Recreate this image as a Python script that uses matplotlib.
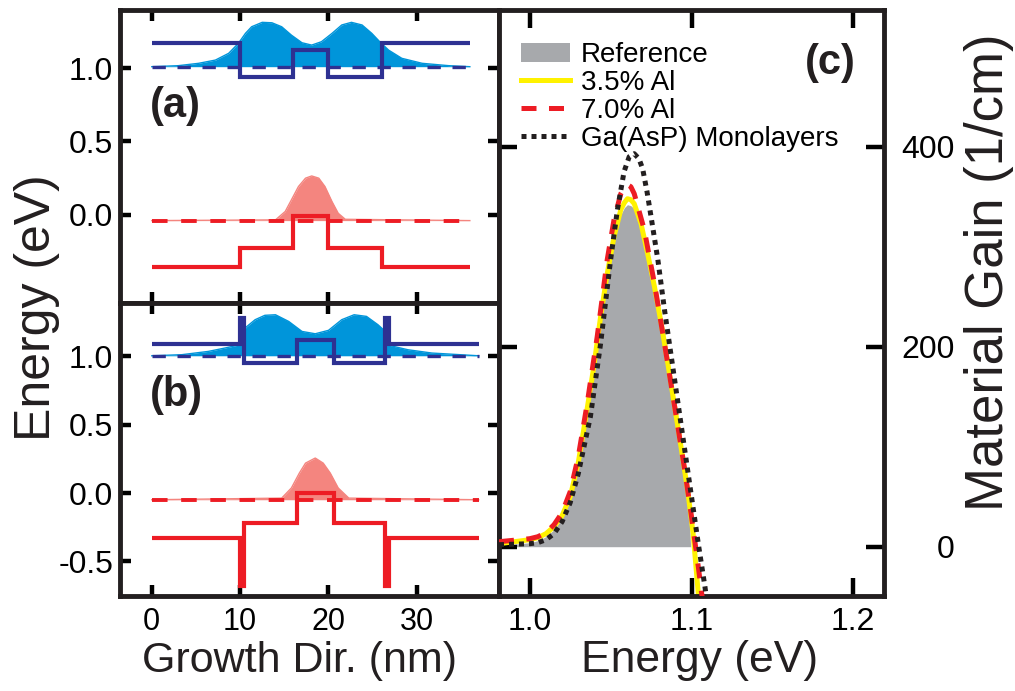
import matplotlib
matplotlib.use('Agg')
import matplotlib.pyplot as plt
from matplotlib import font_manager
from matplotlib.patches import Patch
from matplotlib.lines import Line2D

names = {f.name for f in font_manager.fontManager.ttflist}
narrow = 'Liberation Sans Narrow' if 'Liberation Sans Narrow' in names else 'Liberation Sans'
plt.rcParams['font.family'] = ['Liberation Sans', 'DejaVu Sans']
plt.rcParams['axes.unicode_minus'] = False

# ---- panel (a): band edges along growth direction ----
edges_a = [0, 10, 16, 20, 26, 36]
cb_a = [1.168, 0.941, 1.122, 0.941, 1.168]
vb_a = [-0.358, -0.227, -0.005, -0.227, -0.358]
level_cb_a = 1.009
level_vb_a = -0.039
psi_e_x_a = [0, 3.0, 5.3, 7.2, 8.7, 9.8, 10.6, 11.3, 12.5, 13.6, 14.7, 15.8, 17.0, 18.1,
             19.2, 20.4, 21.5, 22.6, 23.8, 24.9, 25.8, 26.8, 28.3, 30.6, 33.6, 36.0]
psi_e_a = [1.009, 1.016, 1.032, 1.054, 1.100, 1.168, 1.236, 1.281, 1.311, 1.308, 1.281, 1.224,
           1.172, 1.156, 1.179, 1.236, 1.293, 1.311, 1.293, 1.236, 1.179, 1.122, 1.066, 1.032,
           1.016, 1.009]
psi_h_x_a = [0, 14.0, 15.1, 15.8, 16.6, 17.4, 18.1, 18.9, 19.6, 20.4, 21.1, 21.9, 36.0]
psi_h_a = [-0.039, -0.034, 0.023, 0.102, 0.193, 0.250, 0.265, 0.250, 0.193, 0.090, 0.011,
           -0.030, -0.039]

# ---- panel (b): with thin AlAs layers ----
edges_b = [0, 10.0, 10.45, 16.4, 20.6, 26.35, 26.8, 37.0]
cb_b = [1.088, 1.278, 0.949, 1.119, 0.949, 1.278, 1.088]
vb_b = [-0.329, -0.683, -0.219, 0.0, -0.219, -0.683, -0.329]
level_cb_b = 1.004
level_vb_b = -0.049
psi_e_x_b = [0, 3.4, 6.4, 8.3, 10.0, 10.3, 10.7, 11.7, 12.8, 14.0, 15.5, 17.0, 18.5, 20.0,
             21.5, 22.9, 24.3, 25.6, 26.3, 26.6, 27.2, 29.0, 31.7, 37.0]
psi_e_b = [1.004, 1.012, 1.036, 1.061, 1.085, 1.182, 1.215, 1.268, 1.300, 1.304, 1.255, 1.182,
           1.165, 1.190, 1.268, 1.304, 1.292, 1.231, 1.190, 1.085, 1.075, 1.048, 1.024, 1.004]
psi_h_x_b = [0, 14.7, 15.8, 16.7, 17.4, 18.5, 19.4, 20.2, 21.1, 22.3, 37.0]
psi_h_b = [-0.049, -0.037, 0.037, 0.146, 0.219, 0.256, 0.219, 0.146, 0.037, -0.037, -0.049]

# ---- panel (c): material gain ----
ref_e = [0.981, 1.0, 1.005, 1.010, 1.015, 1.020, 1.025, 1.030, 1.0354, 1.0396, 1.0438, 1.0479,
         1.0521, 1.0563, 1.0585, 1.0604, 1.0625, 1.0646, 1.0688, 1.0729, 1.0771, 1.0813,
         1.0854, 1.0896, 1.0938, 1.0979, 1.0995]
ref_g = [1, 4, 6, 10, 17, 28, 47, 81, 134, 177, 227, 270, 306, 332, 339, 342, 341, 338, 319,
         289, 256, 219, 179, 136, 93, 45, 0]
al35_e = [0.981, 1.0, 1.005, 1.010, 1.015, 1.020, 1.025, 1.030, 1.0354, 1.0396, 1.0438, 1.0479,
          1.0521, 1.0563, 1.0585, 1.0604, 1.0625, 1.0646, 1.0688, 1.0729, 1.0771, 1.0813,
          1.0854, 1.0896, 1.0938, 1.0979, 1.1010, 1.1042, 1.1060]
al35_g = [3, 7, 9, 13, 20, 31, 50, 84, 137, 180, 230, 273, 310, 337, 344, 348, 347, 343, 323,
          293, 260, 223, 183, 140, 97, 53, 13, -47, -70]
al70_e = [0.981, 1.0, 1.005, 1.010, 1.015, 1.020, 1.025, 1.030, 1.0354, 1.0417, 1.0479, 1.0521,
          1.0563, 1.0585, 1.0604, 1.0625, 1.0646, 1.0708, 1.0771, 1.0833, 1.0896, 1.0958,
          1.1000, 1.1042, 1.1063, 1.1080]
al70_g = [5, 8, 10, 14, 22, 34, 55, 90, 142, 210, 287, 327, 353, 359, 362, 360, 353, 317, 263,
          203, 140, 77, 30, -20, -47, -65]
ml_e = [0.981, 1.0, 1.005, 1.010, 1.015, 1.020, 1.025, 1.030, 1.0375, 1.0438, 1.05, 1.0542,
        1.0583, 1.0615, 1.0646, 1.0675, 1.0698, 1.0725, 1.075, 1.0792, 1.0833, 1.0875, 1.0917,
        1.0958, 1.1, 1.1042, 1.1083, 1.1100]
ml_g = [2, 3, 4, 7, 13, 25, 44, 73, 130, 203, 287, 337, 375, 390, 393, 388, 378, 355, 330,
        287, 237, 190, 143, 97, 50, 3, -40, -60]
legend_labels = ['Reference', '3.5% Al', '7.0% Al', 'Ga(AsP) Monolayers']

nm_ticks = [0, 10, 20, 30]
gain_ticks = [0, 200, 400]
gain_labels = ['0', '200', '400']
e_ticks = [1.0, 1.1, 1.2]
e_labels = ['1.0', '1.1', '1.2']

navy = '#2E3192'
cyan = '#0095DA'
red = '#ED1C24'
salmon = '#F4857F'
yellow = '#FFF200'
gray = '#A7A9AC'
black = '#231F20'

W, H = 1015, 691
fig = plt.figure(figsize=(W / 100, H / 100), dpi=100)


def fx(px):
    return px / W


def fy(py):
    return 1 - py / H


ax_a = fig.add_axes([fx(120), fy(303), fx(499) - fx(120), fy(10) - fy(303)])
ax_b = fig.add_axes([fx(120), fy(596), fx(499) - fx(120), fy(303) - fy(596)])
ax_c = fig.add_axes([fx(499), fy(596), fx(884) - fx(499), fy(10) - fy(596)])


def band_panel(ax, edges, cb, vb, lcb, lvb, xe, ye, xh, yh):
    ax.fill_between(xe, lcb, ye, color=cyan, lw=0, zorder=1)
    ax.plot(xe, ye, color=cyan, lw=1, zorder=1)
    ax.fill_between(xh, lvb, yh, color=salmon, lw=0, zorder=1)
    ax.plot(xh, yh, color=salmon, lw=1, zorder=1)
    ax.plot([edges[0], edges[-1]], [lcb, lcb], color=navy, lw=2.4, dashes=(4, 3.5), zorder=2)
    ax.plot([edges[0], edges[-1]], [lvb, lvb], color=red, lw=2.8, dashes=(4, 3.5), zorder=2)
    ax.stairs(cb, edges, baseline=None, color=navy, lw=3.0, zorder=3, joinstyle='miter')
    ax.stairs(vb, edges, baseline=None, color=red, lw=3.0, zorder=3, joinstyle='miter')
    ax.set_xlim(-3.6, 39.3)
    ax.set_xticks(nm_ticks)
    ax.tick_params(direction='in', length=8, width=3.2, top=True, right=True,
                   labelsize=23, pad=5)
    for s in ax.spines.values():
        s.set_linewidth(3.5)
        s.set_color(black)


band_panel(ax_a, edges_a, cb_a, vb_a, level_cb_a, level_vb_a,
           psi_e_x_a, psi_e_a, psi_h_x_a, psi_h_a)
band_panel(ax_b, edges_b, cb_b, vb_b, level_cb_b, level_vb_b,
           psi_e_x_b, psi_e_b, psi_h_x_b, psi_h_b)

ax_a.set_ylim(-0.6, 1.395)
ax_a.set_yticks([0, 0.5, 1.0])
ax_a.set_yticklabels(['0.0', '0.5', '1.0'])
ax_a.tick_params(labelbottom=False)

ax_b.set_ylim(-0.753, 1.39)
ax_b.set_yticks([-0.5, 0, 0.5, 1.0])
ax_b.set_yticklabels(['-0.5', '0.0', '0.5', '1.0'])
ax_b.set_xticklabels([str(t) for t in nm_ticks], fontfamily=narrow, fontsize=22)
ax_b.tick_params(axis='x', pad=8)

# panel (c)
ax_c.fill_between(ref_e, 0, ref_g, color=gray, lw=0, zorder=1)
ax_c.plot(al35_e, al35_g, color=yellow, lw=3.6, zorder=2)
ax_c.plot(al70_e, al70_g, color=red, lw=3.6, dashes=(3, 2.5), zorder=3)
ax_c.plot(ml_e, ml_g, color=black, lw=3.6, dashes=(1, 1), zorder=4)
ax_c.set_xlim(0.981, 1.219)
ax_c.set_ylim(-49.3, 536.7)
ax_c.set_xticks(e_ticks)
ax_c.set_xticklabels(e_labels, fontfamily=narrow, fontsize=22)
ax_c.set_yticks(gain_ticks)
ax_c.set_yticklabels(gain_labels)
ax_c.tick_params(direction='in', length=13, width=3.2, top=True, right=True,
                 labelleft=False, labelright=True, labelsize=23)
ax_c.tick_params(axis='x', pad=8)
ax_c.tick_params(axis='y', pad=51)
for t in ax_c.yaxis.get_major_ticks():
    t.label2.set_horizontalalignment('right')
for s in ax_c.spines.values():
    s.set_linewidth(3.5)
    s.set_color(black)

handles = [Patch(facecolor=gray, edgecolor='none'),
           Line2D([], [], color=yellow, lw=3.6),
           Line2D([], [], color=red, lw=3.6, dashes=(3, 2.5)),
           Line2D([], [], color=black, lw=3.6, dashes=(1, 1))]
ax_c.legend(handles, legend_labels, loc='upper left', bbox_to_anchor=(0.058, 0.945),
            frameon=False, fontsize=20, handlelength=1.75, handletextpad=0.4,
            labelspacing=0.07, borderpad=0, borderaxespad=0)

# panel letters
fig.text(fx(150), fy(106), '(a)', fontsize=30, fontweight='bold', va='center', color=black)
fig.text(fx(150), fy(395), '(b)', fontsize=30, fontweight='bold', va='center', color=black)
fig.text(fx(805), fy(63), '(c)', fontsize=30, fontweight='bold', va='center', color=black)

# axis titles
fig.text(fx(50), fy(308), 'Energy (eV)', fontsize=36, rotation=90, rotation_mode='anchor',
         ha='center', va='baseline', color=black)
fig.text(fx(1003), fy(272), 'Material Gain (1/cm)', fontsize=38, rotation=90,
         rotation_mode='anchor', ha='center', va='baseline', color=black)
fig.text(fx(300), fy(672), 'Growth Dir. (nm)', fontsize=31, fontfamily=narrow,
         ha='center', va='baseline', color=black)
fig.text(fx(700), fy(672), 'Energy (eV)', fontsize=32, fontfamily=narrow,
         ha='center', va='baseline', color=black)

fig.savefig('out.png', dpi=100)
